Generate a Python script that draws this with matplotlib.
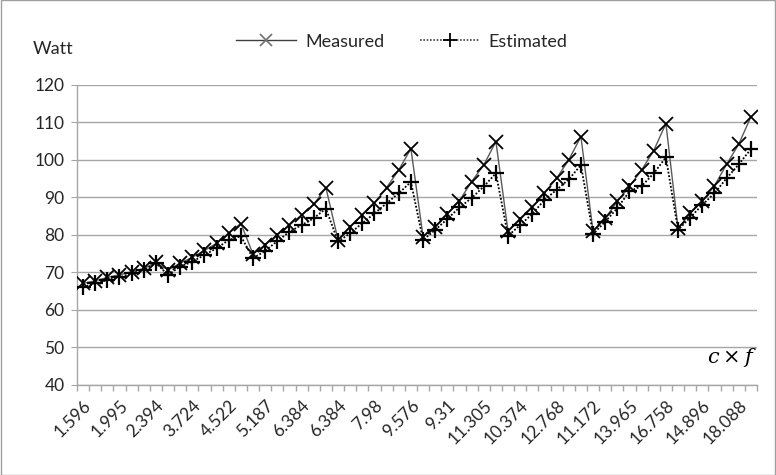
import matplotlib.pyplot as plt
import numpy as np

# c x f values; 8 cores x 7 frequencies, one label every 3rd category
tick_labels = ["1.596", "1.995", "2.394", "3.724", "4.522", "5.187", "6.384",
               "6.384", "7.98", "9.576", "9.31", "11.305", "10.374", "12.768",
               "11.172", "13.965", "16.758", "14.896", "18.088"]

measured = [
    67.0, 67.7, 68.6, 69.3, 70.1, 71.0, 72.6,      # c=1
    70.6, 72.4, 74.0, 75.8, 77.7, 80.4, 83.0,      # c=2
    74.8, 77.3, 80.0, 82.6, 85.3, 88.1, 92.6,      # c=3
    78.6, 82.2, 85.3, 88.4, 92.6, 97.3, 103.0,     # c=4
    79.5, 82.2, 85.6, 89.1, 94.2, 98.6, 104.9,     # c=5
    80.9, 84.1, 87.3, 91.2, 95.1, 100.0, 106.2,    # c=6
    80.9, 84.4, 88.9, 92.9, 97.3, 102.5, 109.7,    # c=7
    81.7, 85.7, 89.0, 93.1, 98.8, 104.2, 111.5,    # c=8
]
estimated = [
    66.0, 67.0, 67.9, 68.6, 69.7, 70.6, 72.4,
    69.3, 71.5, 72.8, 74.6, 76.4, 78.6, 79.6,
    73.7, 75.7, 78.3, 80.8, 82.6, 84.4, 87.0,
    78.2, 80.4, 83.1, 85.7, 88.4, 91.1, 94.1,
    78.6, 81.3, 84.2, 87.3, 89.8, 92.9, 96.4,
    79.7, 82.6, 85.6, 89.3, 92.0, 94.8, 98.6,
    80.2, 83.5, 87.1, 91.6, 93.0, 96.4, 100.7,
    81.3, 84.6, 88.0, 91.1, 95.1, 98.8, 102.9,
]

plt.rcParams["font.family"] = ["Lato", "DejaVu Sans"]

x = np.arange(len(measured))

fig = plt.figure(figsize=(7.76, 4.75), dpi=100)
ax = fig.add_axes([0.0992, 0.1905, 0.8763, 0.6306])

grid_c = "#a6a6a6"
txt_c = "#262626"
ax.plot(x, measured, color="#5a5a5a", lw=1.0, marker="x", ms=10,
        mec="black", mew=1.3, zorder=3)
ax.plot(x, estimated, color="black", lw=1.3, ls=(0, (1, 1)), marker="+",
        ms=11.5, mec="black", mew=1.6, zorder=4)

# legend handles drawn a bit lighter and smaller, as in the original
ax.plot([], [], color="#404040", lw=1.0, marker="x", ms=9, mec="#707070",
        mew=1.2, label="Measured")
ax.plot([], [], color="#404040", lw=1.2, ls=(0, (1, 1)), marker="+", ms=10,
        mec="black", mew=1.3, label="Estimated")

ax.set_ylim(40, 120)
ax.set_yticks(np.arange(40, 121, 10))
ax.set_xlim(-0.5, len(measured) - 0.5)
ax.set_xticks(np.arange(0, len(measured), 3))
ax.set_xticklabels(tick_labels, rotation=45, ha="right", rotation_mode="anchor",
                   fontsize=12.5, color=txt_c)
ax.set_xticks(np.arange(-0.5, len(measured)), minor=True)
ax.tick_params(axis="x", which="major", length=0, pad=9)
ax.tick_params(axis="x", which="minor", length=4, color=grid_c, width=1)
ax.tick_params(axis="y", length=4, color=grid_c, labelsize=12.5,
               labelcolor=txt_c, pad=5)

ax.grid(axis="y", color=grid_c, lw=1)
ax.set_axisbelow(True)
for s in ["top", "right"]:
    ax.spines[s].set_visible(False)
for s in ["left", "bottom"]:
    ax.spines[s].set_color(grid_c)
    ax.spines[s].set_linewidth(1)

fig.text(0.042, 0.897, "Watt", fontsize=13, color=txt_c, va="center")
fig.text(0.975, 0.248, r"$c \times f$", fontsize=15, ha="right", va="center",
         math_fontfamily="dejavuserif")

handles, labels = ax.get_legend_handles_labels()
fig.legend(handles, labels, loc="center", bbox_to_anchor=(0.518, 0.912),
           ncol=2, frameon=False, fontsize=13, handlelength=3.3,
           columnspacing=2.0, handletextpad=0.5, labelcolor=txt_c)

fig.patches.append(plt.Rectangle((0.001, 0.001), 0.998, 0.998,
                                 transform=fig.transFigure, fill=False,
                                 ec="#a0a0a0", lw=1))

fig.savefig("out.png", dpi=100)
